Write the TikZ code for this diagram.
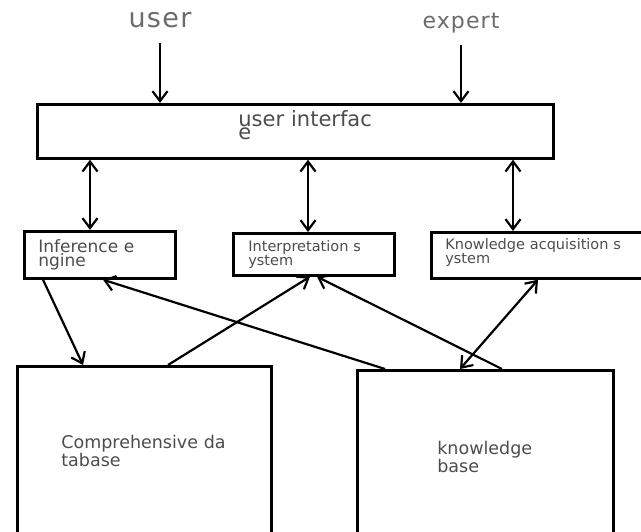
\documentclass[tikz,border=0pt]{standalone}
\usepackage{fontspec}
\setmainfont{DejaVu Sans}
\newfontfamily\userfont[LetterSpace=5]{DejaVu Sans}
\newfontfamily\expertfont[LetterSpace=5]{DejaVu Sans}
\usetikzlibrary{arrows.meta,positioning,calc}
\lineskiplimit=-50pt
\hyphenpenalty=10000
\tikzset{
  blk/.style    = { draw, line width=2.7pt, anchor=north west, align=left, inner ysep=0pt, text=black!70 },
  bigtxt/.style = { font=\fontsize{17.5}{14}\selectfont },
  smtxt/.style  = { font=\fontsize{14.5}{10}\selectfont },
  toplbl/.style = { text=black!58, inner sep=0pt, anchor=base }
}

\begin{document}
\begin{tikzpicture}[x=1pt, y=-1pt, line width=2.2pt, >={Straight Barb[length=10pt,width=15pt]}]
    \useasboundingbox (0,0) rectangle (641,532);
    \clip (0,0) rectangle (641,532);

    \node[toplbl, font=\userfont\fontsize{27}{27}\selectfont] (user) at (160,28) {user};
    \node[toplbl, font=\expertfont\fontsize{22}{22}\selectfont] (expert) at (461,29) {expert};

    \node[blk, font=\fontsize{21}{12}\selectfont, minimum width=516, minimum height=54, inner xsep=201, text width=114] (ui) at (36,103) {\mbox{user interfac}\\e\rule[-12pt]{0pt}{12pt}};

    \node[blk, bigtxt, font=\fontsize{17}{13}\selectfont, minimum width=151, minimum height=47, inner xsep=14, text width=123] (ie) at (23,230) {Inference e\\ngine};
    \node[blk, smtxt, minimum width=161, minimum height=42, inner xsep=15, text width=131] (is) at (232,232) {Interpretation s\\ystem};
    \node[blk, smtxt, minimum width=240, minimum height=46, inner xsep=14, text width=212] (ka) at (430,231) {Knowledge acquisition s\\ystem\rule[-8pt]{0pt}{8pt}};

    \node[blk, bigtxt, minimum width=254, minimum height=170, inner xsep=44, text width=166] (cd) at (16,365) {\mbox{Comprehensive da}\\tabase};
    \node[blk, bigtxt, minimum width=256, minimum height=174, inner xsep=80, text width=96] (kb) at (356,369) {\mbox{knowledge}\\base};

    \path[->, shorten <=15pt] (user.base) edge (user.base |- ui.north);
    \path[->, shorten <=16pt] (expert.base) edge (expert.base |- ui.north);

    \path[<->] ([xshift=54pt]ui.south west) edge ([xshift=67pt]ie.north west);
    \path[<->] ([xshift=272pt]ui.south west) edge ([xshift=76pt]is.north west);
    \path[<->] ([xshift=477pt]ui.south west) edge ([xshift=83pt]ka.north west);

    \path[->] ([xshift=20pt]ie.south west) edge ([xshift=67pt]cd.north west);
    \path[->] ([xshift=152pt]cd.north west) edge ([xshift=78pt]is.south west);
    \path[->] ([xshift=29pt]kb.north west) edge ([xshift=80pt]ie.south west);
    \path[->] ([xshift=146pt]kb.north west) edge ([xshift=85pt]is.south west);
    % \path[->] (kb) edge (ka);
    \path[<->] ([xshift=104pt]kb.north west) edge ([xshift=108pt]ka.south west);
\end{tikzpicture}
\end{document}
